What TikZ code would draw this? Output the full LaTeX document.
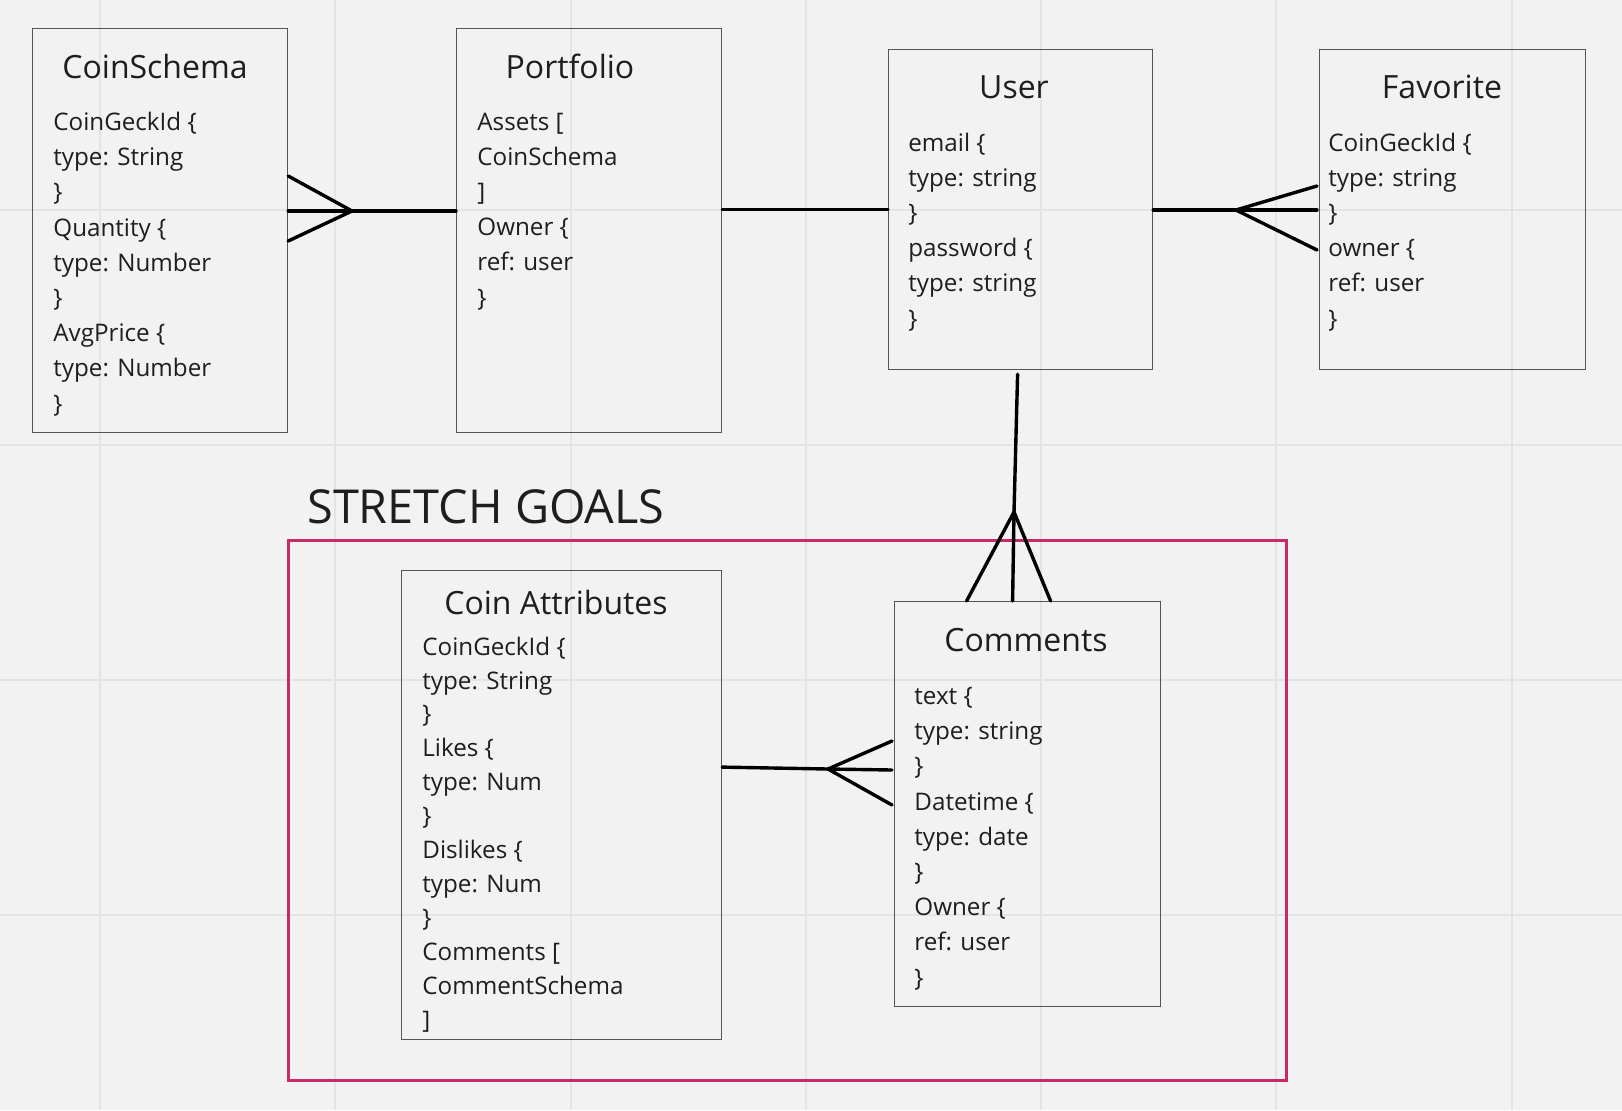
\documentclass[tikz,border=0pt]{standalone}
\usepackage{fontspec}
\setmainfont{Open Sans}
\usetikzlibrary{calc}

\definecolor{board}{HTML}{F2F2F2}
\definecolor{gridgray}{HTML}{E4E4E4}
\definecolor{boxline}{HTML}{555555}
\definecolor{goalred}{HTML}{C8296A}
\definecolor{ink}{HTML}{1E1E1E}

\tikzset{
  entity/.style={draw=boxline, line width=0.6pt, inner sep=0pt, anchor=north west},
  entitytitle/.style={font=\fontsize{16}{19}\selectfont, text=ink, inner sep=0pt},
  fields/.style={font=\fontsize{12.1}{17.6}\selectfont, text=ink, align=left, inner sep=0pt, anchor=base west},
  link/.style={line width=1.7pt, line cap=round, line join=round},
  gridline/.style={draw=gridgray, line width=1pt},
}

\begin{document}
\begin{tikzpicture}[x=0.5pt,y=-0.5pt]
    \useasboundingbox (0,0) rectangle (1622,1110);
    % Sfondo e griglia
    \fill[board] (0,0) rectangle (1622,1110);
    \foreach \x in {100,335,571,806,1041,1276,1512}
        \draw[gridline] (\x,0) -- (\x,1110);
    \foreach \y in {210,445,680,915}
        \draw[gridline] (0,\y) -- (1622,\y);

    % Entita
    \node[entity, minimum width=127.5pt, minimum height=202pt] (coinschema) at (32,28) {};
    \node[entity, minimum width=132.5pt, minimum height=202pt] (portfolio) at (456,28) {};
    \node[entity, minimum width=132pt, minimum height=160pt] (user) at (888,49) {};
    \node[entity, minimum width=133pt, minimum height=160pt] (favorite) at (1319,49) {};

    % Titoli
    \node[entitytitle] (coinschema-title) at (155,66) {CoinSchema};
    \node[entitytitle] (portfolio-title) at (570,66) {Portfolio};
    \node[entitytitle] (user-title) at (1014,87) {User};
    \node[entitytitle] (favorite-title) at (1442,87) {Favorite};

    % Campi (ancorati all'ultima riga)
    \node[fields] (coinschema-fields) at (53,412) {CoinGeckId \{\\ type: String\\ \}\\ Quantity \{\\ type: Number\\ \}\\ AvgPrice \{\\ type: Number\\ \}};
    \node[fields] (portfolio-fields) at (477,306) {Assets [\\ CoinSchema\\ ]\\ Owner \{\\ ref: user\\ \}};
    \node[fields] (user-fields) at (908,327) {email \{\\ type: string\\ \}\\ password \{\\ type: string\\ \}};
    \node[fields] (favorite-fields) at (1328,327) {CoinGeckId \{\\ type: string\\ \}\\ owner \{\\ ref: user\\ \}};

    % Stretch goals
    \node[entity, draw=goalred, line width=1.5pt, minimum width=499pt, minimum height=270pt] (stretchbox) at (287,539) {};
    \node[font=\fontsize{23.4}{28}\selectfont, text=ink, inner sep=0pt, anchor=base west] (stretch-title) at (307,523) {STRETCH GOALS};

    \node[entity, minimum width=160pt, minimum height=234.5pt] (coinattr) at (401,570) {};
    \node[entity, minimum width=133pt, minimum height=202.5pt] (comments) at (894,601) {};
    \node[entitytitle] (coinattr-title) at (556,602) {Coin Attributes};
    \node[entitytitle] (comments-title) at (1026,640) {Comments};
    \node[fields, font=\fontsize{12.1}{16.95}\selectfont] (coinattr-fields) at (422,1028) {CoinGeckId \{\\ type: String\\ \}\\ Likes \{\\ type: Num\\ \}\\ Dislikes \{\\ type: Num\\ \}\\ Comments [\\ CommentSchema\\ ]};
    \node[fields] (comments-fields) at (914,986) {text \{\\ type: string\\ \}\\ Datetime \{\\ type: date\\ \}\\ Owner \{\\ ref: user\\ \}};

    % Relazioni
    \coordinate (csfoot) at (352,211);
    \draw[link] (portfolio.west |- csfoot) -- (csfoot);
    \foreach \dy in {-35,0,30}
        \draw[link] (csfoot) -- ($(coinschema.east |- csfoot)+(0,\dy)$);

    \draw[link] (portfolio.east |- user.west) -- (user.west);

    \coordinate (favfoot) at (1236,210);
    \draw[link] (user.east |- favfoot) -- (favfoot);
    \foreach \dy in {-24,0,40}
        \draw[link] (favfoot) -- ($(favorite.west |- favfoot)+(-2,\dy)$);

    \coordinate (cmfoot) at (1014,512);
    \draw[link] ($(user.south)+(-3,4)$) -- (cmfoot);
    \foreach \dx in {-61,-15,23}
        \draw[link] (cmfoot) -- ($(comments.north)+(\dx,0)$);

    \coordinate (cafoot) at (828,769);
    \draw[link] ($(coinattr.east)+(0,-38)$) -- (cafoot);
    \foreach \dy in {-28,1,36}
        \draw[link] (cafoot) -- ($(comments.west |- cafoot)+(-2,\dy)$);
\end{tikzpicture}
\end{document}
